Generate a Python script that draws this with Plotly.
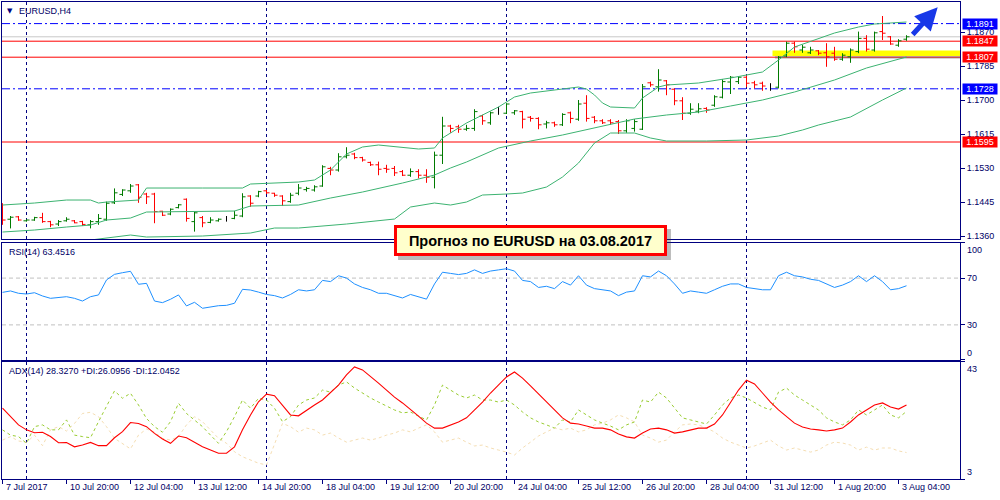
import plotly.graph_objects as go

# ---------------- data ----------------
bar_open = [1.1404, 1.1402, 1.1408, 1.1398, 1.1400, 1.1406, 1.1396, 1.1390, 1.1398, 1.1398,
 1.1396, 1.1388, 1.1396, 1.1402, 1.1443, 1.1464, 1.1473, 1.1488, 1.1465, 1.1465,
 1.1422, 1.1415, 1.1431, 1.1452, 1.1396, 1.1406, 1.1394, 1.1398, 1.1402, 1.1404,
 1.1410, 1.1460, 1.1460, 1.1473, 1.1467, 1.1460, 1.1446, 1.1467, 1.1476, 1.1475,
 1.1485, 1.1529, 1.1525, 1.1558, 1.1565, 1.1556, 1.1544, 1.1538, 1.1529, 1.1529,
 1.1521, 1.1512, 1.1521, 1.1512, 1.1507, 1.1562, 1.1635, 1.1633, 1.1627, 1.1629,
 1.1660, 1.1643, 1.1668, 1.1667, 1.1668, 1.1671, 1.1657, 1.1654, 1.1640, 1.1643,
 1.1638, 1.1668, 1.1652, 1.1692, 1.1657, 1.1648, 1.1648, 1.1646, 1.1623, 1.1629,
 1.1627, 1.1743, 1.1733, 1.1748, 1.1727, 1.1698, 1.1667, 1.1672, 1.1679, 1.1687,
 1.1707, 1.1745, 1.1746, 1.1757, 1.1743, 1.1742, 1.1732, 1.1732, 1.1810, 1.1842,
 1.1825, 1.1818, 1.1823, 1.1818, 1.1817, 1.1802, 1.1808, 1.1821, 1.1854, 1.1825,
 1.1871, 1.1858, 1.1837, 1.1852]
bar_high = [1.1442, 1.1410, 1.1410, 1.1402, 1.1408, 1.1418, 1.1398, 1.1400, 1.1407, 1.1400,
 1.1398, 1.1400, 1.1415, 1.1446, 1.1479, 1.1477, 1.1490, 1.1490, 1.1468, 1.1468,
 1.1423, 1.1429, 1.1440, 1.1454, 1.1421, 1.1410, 1.1407, 1.1404, 1.1410, 1.1423,
 1.1467, 1.1462, 1.1473, 1.1475, 1.1468, 1.1462, 1.1468, 1.1490, 1.1483, 1.1487,
 1.1537, 1.1533, 1.1567, 1.1582, 1.1568, 1.1558, 1.1546, 1.1546, 1.1538, 1.1535,
 1.1525, 1.1529, 1.1527, 1.1527, 1.1571, 1.1658, 1.1638, 1.1638, 1.1638, 1.1677,
 1.1663, 1.1671, 1.1683, 1.1692, 1.1675, 1.1673, 1.1660, 1.1657, 1.1648, 1.1646,
 1.1667, 1.1671, 1.1700, 1.1712, 1.1660, 1.1652, 1.1652, 1.1650, 1.1652, 1.1652,
 1.1740, 1.1746, 1.1777, 1.1750, 1.1729, 1.1707, 1.1692, 1.1692, 1.1682, 1.1712,
 1.1752, 1.1760, 1.1760, 1.1762, 1.1748, 1.1746, 1.1742, 1.1810, 1.1846, 1.1846,
 1.1838, 1.1833, 1.1825, 1.1842, 1.1833, 1.1817, 1.1829, 1.1871, 1.1862, 1.1871,
 1.1910, 1.1860, 1.1852, 1.1862]
bar_low = [1.1388, 1.1379, 1.1398, 1.1396, 1.1398, 1.1393, 1.1382, 1.1385, 1.1396, 1.1392,
 1.1385, 1.1379, 1.1388, 1.1398, 1.1440, 1.1460, 1.1468, 1.1443, 1.1440, 1.1392,
 1.1410, 1.1412, 1.1429, 1.1396, 1.1371, 1.1382, 1.1392, 1.1396, 1.1396, 1.1402,
 1.1407, 1.1433, 1.1457, 1.1465, 1.1458, 1.1435, 1.1443, 1.1462, 1.1471, 1.1471,
 1.1483, 1.1512, 1.1521, 1.1554, 1.1552, 1.1546, 1.1535, 1.1512, 1.1518, 1.1510,
 1.1510, 1.1508, 1.1504, 1.1493, 1.1479, 1.1540, 1.1618, 1.1618, 1.1623, 1.1623,
 1.1638, 1.1638, 1.1663, 1.1665, 1.1663, 1.1629, 1.1646, 1.1627, 1.1629, 1.1633,
 1.1635, 1.1642, 1.1648, 1.1646, 1.1642, 1.1640, 1.1638, 1.1615, 1.1618, 1.1621,
 1.1625, 1.1733, 1.1721, 1.1712, 1.1687, 1.1650, 1.1663, 1.1667, 1.1668, 1.1683,
 1.1704, 1.1715, 1.1740, 1.1732, 1.1729, 1.1723, 1.1723, 1.1729, 1.1807, 1.1818,
 1.1818, 1.1815, 1.1812, 1.1783, 1.1798, 1.1798, 1.1793, 1.1817, 1.1821, 1.1821,
 1.1850, 1.1838, 1.1833, 1.1848]
bar_close = [1.1400, 1.1407, 1.1400, 1.1400, 1.1406, 1.1396, 1.1388, 1.1396, 1.1402, 1.1393,
 1.1389, 1.1396, 1.1404, 1.1442, 1.1468, 1.1475, 1.1485, 1.1457, 1.1458, 1.1421,
 1.1412, 1.1427, 1.1438, 1.1404, 1.1418, 1.1393, 1.1400, 1.1402, 1.1402, 1.1412,
 1.1458, 1.1442, 1.1471, 1.1468, 1.1462, 1.1448, 1.1462, 1.1480, 1.1479, 1.1483,
 1.1533, 1.1525, 1.1558, 1.1562, 1.1556, 1.1550, 1.1538, 1.1527, 1.1527, 1.1518,
 1.1512, 1.1521, 1.1512, 1.1507, 1.1562, 1.1635, 1.1629, 1.1627, 1.1629, 1.1671,
 1.1648, 1.1668, 1.1668, 1.1690, 1.1673, 1.1652, 1.1654, 1.1638, 1.1643, 1.1638,
 1.1664, 1.1654, 1.1690, 1.1654, 1.1648, 1.1643, 1.1643, 1.1623, 1.1648, 1.1646,
 1.1733, 1.1738, 1.1750, 1.1738, 1.1698, 1.1667, 1.1677, 1.1678, 1.1675, 1.1708,
 1.1746, 1.1757, 1.1757, 1.1742, 1.1738, 1.1735, 1.1732, 1.1807, 1.1842, 1.1833,
 1.1832, 1.1825, 1.1817, 1.1808, 1.1802, 1.1812, 1.1825, 1.1854, 1.1827, 1.1868,
 1.1867, 1.1840, 1.1848, 1.1858]

bb_upper_idx = [0, 4, 8, 11, 12, 13, 17, 18, 25, 30, 31, 37, 39, 41, 43, 45, 47, 50, 52, 54,
 55, 58, 62, 64, 66, 70, 72, 73, 74, 75, 76, 79, 80, 82, 83, 87, 91, 95, 97, 99,
 102, 104, 107, 109, 113]
bb_upper = [1.14375, 1.14425, 1.1450, 1.1450, 1.14425, 1.1445, 1.1450, 1.1480, 1.1480, 1.1480,
 1.1490, 1.1495, 1.1500, 1.1525, 1.1565, 1.15825, 1.15875, 1.15825, 1.15775, 1.1580,
 1.1605, 1.16425, 1.16825, 1.17075, 1.17175, 1.17275, 1.17325, 1.17275, 1.17125, 1.16925,
 1.16825, 1.1680, 1.1705, 1.17325, 1.17375, 1.17425, 1.1755, 1.1770, 1.1800, 1.18325,
 1.18525, 1.18675, 1.18825, 1.1890, 1.1895]
bb_mid_idx = [0, 4, 8, 11, 13, 16, 18, 25, 29, 31, 37, 41, 45, 50, 54, 56, 58, 62, 66, 70,
 75, 79, 83, 87, 91, 95, 99, 104, 108, 113]
bb_mid = [1.1370, 1.1375, 1.13825, 1.13875, 1.1400, 1.1405, 1.1420, 1.14225, 1.14225, 1.1435,
 1.14375, 1.1455, 1.1470, 1.14925, 1.15125, 1.1530, 1.1545, 1.1580, 1.15975, 1.16125,
 1.1635, 1.16525, 1.16625, 1.1670, 1.1685, 1.1700, 1.1720, 1.1750, 1.1780, 1.18075]
bb_low_idx = [11, 12, 16, 18, 25, 31, 34, 37, 43, 49, 51, 54, 56, 58, 60, 63, 65, 68, 70, 72,
 74, 76, 79, 81, 83, 88, 93, 97, 100, 102, 106, 110, 113]
bb_low = [1.1350, 1.13525, 1.13625, 1.13575, 1.1360, 1.13675, 1.1380, 1.1380, 1.1390, 1.14025,
 1.14325, 1.14425, 1.14375, 1.1445, 1.14625, 1.1465, 1.14675, 1.14825, 1.15075, 1.15425,
 1.15925, 1.16175, 1.16175, 1.1605, 1.15975, 1.15975, 1.1600, 1.1610, 1.1625, 1.16375,
 1.16575, 1.1700, 1.1730]

rsi = [57.8, 59.0, 57.0, 56.4, 57.5, 54.7, 52.7, 53.2, 54.1, 52.7,
 50.4, 54.1, 55.6, 68.4, 73.2, 74.6, 75.8, 64.7, 65.5, 50.4,
 49.0, 51.9, 55.6, 46.2, 49.3, 44.2, 45.6, 46.4, 46.7, 48.5,
 60.4, 59.8, 58, 56, 55, 53, 56, 60, 59, 60,
 68, 67, 72, 70, 65, 62, 60, 57, 57, 55,
 53, 56, 54, 52, 65, 75, 74, 73, 74, 77,
 74, 76, 77, 78, 76, 68, 67, 62, 63, 61,
 67, 64, 72, 64, 61, 60, 59, 55, 58, 59,
 72, 71, 76, 72, 65, 57, 59, 58, 57, 60,
 63, 65, 65, 62, 61, 60, 60, 72, 75, 72,
 71, 69, 68, 65, 62, 64, 67, 72, 67, 72,
 67, 60, 61, 63.45]

adx = [27.2, 24.3, 21.5, 19.8, 18.8, 19.0, 17.5, 15.4, 15.5, 14.0,
 14.6, 15.5, 14.4, 14.4, 17.1, 19.2, 22.3, 22.0, 20.9, 18.6,
 16.7, 15.2, 17.7, 17.1, 15.5, 14.0, 12.9, 11.8, 11.8, 14.0,
 19.8, 24.9, 29.4, 32.0, 31.5, 28.3, 24.9, 24.6, 26.6, 28.3,
 30, 32.7, 35.1, 38.6, 41.3, 40.3, 38.2, 35.8, 33.4, 31,
 29, 26.9, 24.5, 22.1, 20.4, 20.4, 21.5, 22.5, 23.9, 26.6,
 29.3, 32.4, 35.1, 37.9, 39.6, 37.5, 34.8, 32.1, 29.3, 26.6,
 23.9, 22.1, 21.8, 21.1, 20.4, 20.4, 19.8, 18.4, 17.4, 17,
 18.7, 20.1, 20.4, 19.8, 18.7, 19.1, 19.8, 20.4, 20.4, 21.8,
 24.9, 29.3, 33.4, 36.8, 35.5, 32.4, 29.3, 26.6, 24.2, 22.1,
 20.8, 20.1, 19.8, 19.4, 19.8, 20.4, 22.5, 24.9, 26.6, 28.3,
 29, 27.6, 26.9, 28.33]
plus_di = [19.8, 18.0, 17.5, 15.2, 20.9, 21.5, 19.8, 19.8, 23.2, 18.0,
 17.5, 17.1, 22.6, 27.7, 33.1, 30.6, 32.3, 28.3, 23.7, 20.9,
 19.0, 22.6, 28.9, 25.4, 23.2, 20.9, 18.0, 15.2, 19.2, 24.3,
 30.0, 27.2, 30.6, 30.0, 27.2, 22.6, 24.3, 28.3, 30, 30.7,
 33.4, 32.7, 35.1, 36.2, 34.1, 32.4, 30.7, 29.3, 28, 26.6,
 25.6, 25.9, 24.5, 23.2, 28.3, 35.1, 33.4, 31.7, 30.7, 31.7,
 30, 30, 29.3, 30, 28.3, 25.9, 23.9, 22.5, 21.5, 20.4,
 23.2, 22.5, 26.6, 24.9, 23.2, 22.1, 21.1, 19.8, 21.5, 22.5,
 30, 29.3, 32.7, 30.7, 27.3, 23.9, 23.2, 22.5, 21.8, 24.9,
 28.3, 30.7, 31.7, 30.7, 29, 27.6, 26.6, 32.7, 34.1, 31.7,
 30, 28.3, 26.6, 23.9, 22.5, 21.5, 23.2, 26.6, 24.9, 26.6,
 28.3, 24.9, 23.9, 26.1]
minus_di = [16.3, 17.5, 16.0, 15.5, 18.0, 14.4, 19.8, 20.9, 19.4, 22.0,
 25.4, 25.8, 24.3, 20.9, 16.9, 15.2, 13.3, 18.0, 20.1, 19.0,
 16.9, 16.3, 17.5, 21.5, 24.3, 22.6, 19.8, 16.9, 15.2, 12.3,
 10.6, 9.5, 8.4, 7.8, 15.2, 22.0, 20.9, 19.0, 20.4, 19.8,
 18, 18.7, 17, 15.6, 16.3, 17, 16.3, 17, 18, 18.7,
 19.8, 19.1, 20.4, 21.5, 19.1, 15.6, 16.3, 17, 15.6, 14.3,
 14.6, 13.6, 12.9, 12.2, 11.2, 13.6, 15.6, 17.7, 19.1, 20.4,
 19.8, 20.4, 19.1, 19.8, 21.5, 22.1, 23.2, 24.9, 23.9, 22.5,
 18, 17, 15.6, 16.3, 19.1, 21.5, 21.8, 21.5, 20.4, 19.1,
 17, 15.6, 14.6, 13.6, 14.3, 15.3, 16.3, 14.3, 12.9, 13.6,
 12.9, 12.2, 12.9, 14.6, 15.6, 15.3, 14.6, 12.9, 13.9, 12.9,
 13.6, 13.6, 12.6, 12.05]

time_tick_idx = [0, 8, 16, 24, 32, 40, 48, 56, 64, 72, 80, 88, 96, 104, 112]
time_tick_labels = ["7 Jul 2017", "10 Jul 20:00", "12 Jul 04:00", "13 Jul 12:00", "14 Jul 20:00",
                    "18 Jul 04:00", "19 Jul 12:00", "20 Jul 20:00", "24 Jul 04:00", "25 Jul 12:00",
                    "26 Jul 20:00", "28 Jul 04:00", "31 Jul 12:00", "1 Aug 20:00", "3 Aug 04:00"]
week_separator_idx = [3, 33, 63, 93]
price_ticks = [1.1360, 1.1445, 1.1530, 1.1615, 1.1700, 1.1785, 1.1870]
rsi_ticks = [0, 30, 70, 100]
rsi_levels = [30, 70]
adx_ticks = [3, 43]

blue_levels = [1.1891, 1.1728]
red_levels = [1.1847, 1.1807, 1.1595]
bid_price = 1.1858
zone_start_idx = 96.25
zone_low, zone_high = 1.1810, 1.1824
arrow_from = (113.6, 1.18600)
arrow_to = (116.9, 1.19320)

title_text = "EURUSD,H4"
rsi_title = "RSI(14) 63.4516"
adx_title = "ADX(14) 28.3270 +DI:26.0956 -DI:12.0452"
forecast_text = "Прогноз по EURUSD на 03.08.2017"

# ---------------- styling ----------------
NAVY = "#000080"
TXT = "#000066"
FONT = "Liberation Sans"
XR = [-0.0625, 119.6875]          # half-pixel shift for crisp 1px bars
D_MAIN = [0.5031, 1.0]
D_RSI = [0.2495, 0.4948]
D_ADX = [0.0, 0.2453]

n = len(bar_open)
idx = list(range(n))
norm = [i for i in idx if bar_open[i] != bar_close[i]]
doji = [i for i in idx if bar_open[i] == bar_close[i]]

fig = go.Figure()
fig.add_trace(go.Ohlc(
    x=norm, open=[bar_open[i] for i in norm], high=[bar_high[i] for i in norm],
    low=[bar_low[i] for i in norm], close=[bar_close[i] for i in norm],
    increasing=dict(line=dict(color="#007A00", width=1)),
    decreasing=dict(line=dict(color="#FF0000", width=1)),
    tickwidth=0.38, hoverinfo="skip", xaxis="x", yaxis="y"))
if doji:
    gaps = [b - a for a, b in zip(doji, doji[1:])]
    tw = 0.38 / min(gaps) if gaps else 0.38
    fig.add_trace(go.Ohlc(
        x=doji, open=[bar_open[i] for i in doji], high=[bar_high[i] for i in doji],
        low=[bar_low[i] for i in doji], close=[bar_close[i] for i in doji],
        increasing=dict(line=dict(color="#000000", width=1)),
        decreasing=dict(line=dict(color="#000000", width=1)),
        tickwidth=min(tw, 0.5), hoverinfo="skip", xaxis="x", yaxis="y"))

for bx, by in [(bb_upper_idx, bb_upper), (bb_mid_idx, bb_mid), (bb_low_idx, bb_low)]:
    fig.add_trace(go.Scatter(x=bx, y=by, mode="lines", line=dict(color="#3CB371", width=1),
                             hoverinfo="skip", xaxis="x", yaxis="y"))

fig.add_trace(go.Scatter(x=idx, y=rsi, mode="lines", line=dict(color="#1E90FF", width=1),
                         hoverinfo="skip", xaxis="x2", yaxis="y2"))
fig.add_trace(go.Scatter(x=idx, y=minus_di, mode="lines",
                         line=dict(color="#F5DEB3", width=1, dash="3px,3px"),
                         hoverinfo="skip", xaxis="x3", yaxis="y3"))
fig.add_trace(go.Scatter(x=idx, y=plus_di, mode="lines",
                         line=dict(color="#9ACD32", width=1, dash="3px,3px"),
                         hoverinfo="skip", xaxis="x3", yaxis="y3"))
fig.add_trace(go.Scatter(x=idx, y=adx, mode="lines", line=dict(color="#FF0000", width=1.1),
                         hoverinfo="skip", xaxis="x3", yaxis="y3"))

shapes = []
# yellow zone with shadow
shapes.append(dict(type="rect", xref="x", yref="y", x0=zone_start_idx + 0.3, x1=XR[1],
                   y0=zone_low - 0.0007, y1=zone_low, fillcolor="rgba(90,90,90,0.35)",
                   line=dict(width=0), layer="below"))
shapes.append(dict(type="rect", xref="x", yref="y", x0=zone_start_idx, x1=XR[1],
                   y0=zone_low, y1=zone_high, fillcolor="#FFFF00", line=dict(width=0), layer="below"))
# horizontal levels
shapes.append(dict(type="line", xref="paper", yref="y", x0=0, x1=1, y0=bid_price, y1=bid_price,
                   line=dict(color="#C8C8C8", width=1), layer="below"))
for lv in blue_levels:
    shapes.append(dict(type="line", xref="paper", yref="y", x0=0, x1=1, y0=lv, y1=lv,
                       line=dict(color="#0000FF", width=1, dash="8px,3px,2px,3px"), layer="below"))
for lv in red_levels:
    shapes.append(dict(type="line", xref="paper", yref="y", x0=0, x1=1, y0=lv, y1=lv,
                       line=dict(color="#FF0000", width=1), layer="below"))
for lv in rsi_levels:
    shapes.append(dict(type="line", xref="paper", yref="y2", x0=0, x1=1, y0=lv, y1=lv,
                       line=dict(color="#C0C0C0", width=1, dash="4px,3px"), layer="below"))
# week separators
for s in week_separator_idx:
    for xr, yr in [("x", "y domain"), ("x2", "y2 domain"), ("x3", "y3 domain")]:
        shapes.append(dict(type="line", xref=xr, yref=yr, x0=s, x1=s, y0=0, y1=1,
                           line=dict(color=NAVY, width=1, dash="3px,3px"), layer="below"))
# forecast box shadow
shapes.append(dict(type="rect", xref="paper", yref="paper", x0=0.4134, x1=0.6983,
                   y0=0.4591, y1=0.5241, fillcolor="rgba(60,60,60,0.35)", line=dict(width=0),
                   layer="above"))

ann = []
small = dict(family=FONT, size=9, color=TXT)
ann.append(dict(text="▼", x=0, y=1, xref="paper", yref="paper", xanchor="left", yanchor="middle",
                xshift=3, yshift=-9, showarrow=False, font=dict(family="DejaVu Sans", size=7, color=NAVY)))
ann.append(dict(text=title_text, x=0, y=1, xref="paper", yref="paper", xanchor="left", yanchor="middle",
                xshift=15, yshift=-9, showarrow=False, font=small))
ann.append(dict(text=rsi_title, x=0, y=D_RSI[1], xref="paper", yref="paper", xanchor="left",
                yanchor="middle", xshift=5, yshift=-9, showarrow=False, font=small))
ann.append(dict(text=adx_title, x=0, y=D_ADX[1], xref="paper", yref="paper", xanchor="left",
                yanchor="middle", xshift=5, yshift=-9, showarrow=False, font=small))
# RSI / ADX scale labels
for v in rsi_ticks:
    sh = -7 if v == max(rsi_ticks) else (7 if v == min(rsi_ticks) else 0)
    ann.append(dict(text=str(v), x=1, y=v, xref="paper", yref="y2", xanchor="left", yanchor="middle",
                    xshift=5, yshift=sh, showarrow=False, font=small))
for v in adx_ticks:
    sh = -7 if v == max(adx_ticks) else 7
    ann.append(dict(text=str(v), x=1, y=v, xref="paper", yref="y3", xanchor="left", yanchor="middle",
                    xshift=5, yshift=sh, showarrow=False, font=small))
# time labels
for ti, tl in zip(time_tick_idx, time_tick_labels):
    ann.append(dict(text=tl, x=ti, y=0, xref="x3", yref="paper", xanchor="left", yanchor="middle",
                    xshift=1, yshift=-8, showarrow=False, font=small))
# price level boxes
for lv in blue_levels + red_levels:
    col = "#0000FF" if lv in blue_levels else "#FF0000"
    ann.append(dict(text=f"{lv:.4f}", x=1, y=lv, xref="paper", yref="y", xanchor="left",
                    yanchor="middle", xshift=2, showarrow=False, bgcolor=col, width=34, height=10,
                    borderpad=0, font=dict(family=FONT, size=9, color="white")))
# forecast box
ann.append(dict(text="<b>" + forecast_text + "</b>", x=0.5517, y=0.5, xref="paper", yref="paper",
                xanchor="center", yanchor="middle", showarrow=False, bgcolor="#FFFFCC",
                bordercolor="#FF0000", borderwidth=3, borderpad=0, width=267, height=25,
                font=dict(family=FONT, size=14.5, color="#000000")))
# arrow
ann.append(dict(text="", x=arrow_to[0], y=arrow_to[1], ax=arrow_from[0], ay=arrow_from[1],
                xref="x", yref="y", axref="x", ayref="y", showarrow=True, arrowhead=2,
                arrowsize=0.9, arrowwidth=5, arrowcolor="#1838E8"))

axc = dict(range=XR, showgrid=False, zeroline=False, showline=True, mirror=True,
           linecolor=NAVY, linewidth=1, fixedrange=True)
yc = dict(side="right", showgrid=False, zeroline=False, showline=True, mirror=True,
          linecolor=NAVY, linewidth=1, ticks="outside", ticklen=4, tickcolor=NAVY, fixedrange=True)

fig.update_layout(
    width=1000, height=500, margin=dict(l=2, r=40, t=2, b=21),
    paper_bgcolor="white", plot_bgcolor="white", showlegend=False, hovermode=False,
    xaxis=dict(**axc, anchor="y", showticklabels=False, rangeslider=dict(visible=False)),
    xaxis2=dict(**axc, anchor="y2", matches="x", showticklabels=False),
    xaxis3=dict(**axc, anchor="y3", matches="x", tickvals=time_tick_idx, ticks="outside",
                ticklen=4, tickcolor=NAVY, showticklabels=False),
    yaxis=dict(**yc, domain=D_MAIN, range=[1.13525, 1.1945], anchor="x", tickvals=price_ticks,
               ticktext=[f"{v:.4f}" for v in price_ticks], tickfont=small),
    yaxis2=dict(**yc, domain=D_RSI, range=[0, 100], anchor="x2", tickvals=rsi_ticks,
                showticklabels=False),
    yaxis3=dict(**yc, domain=D_ADX, range=[3, 43], anchor="x3", tickvals=adx_ticks,
                showticklabels=False),
    shapes=shapes, annotations=ann,
)

fig.write_html("out.html")
